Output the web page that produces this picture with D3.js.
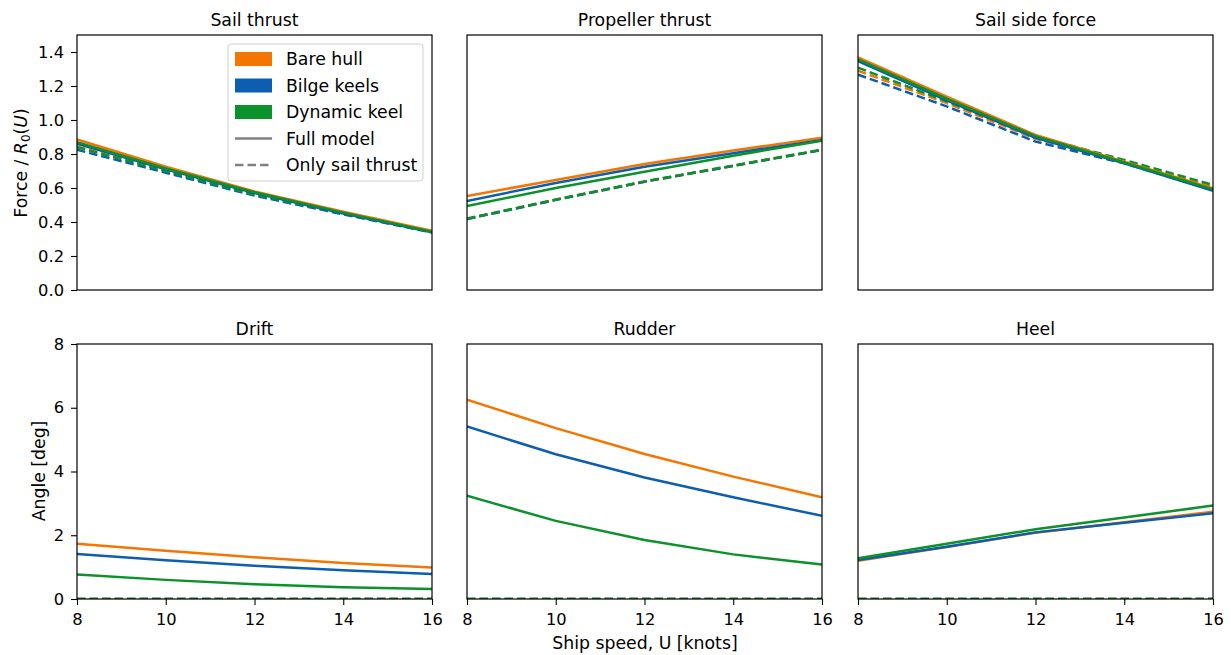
<!DOCTYPE html>
<meta charset="utf-8">
<script src="https://d3js.org/d3.v7.min.js"></script>
<style>
  body { margin: 0; background: #fff; }
  text { font-family: "DejaVu Sans", sans-serif; }
</style>
<div id="chart"></div>
<script>

// ship speeds (knots)
var speeds = [8, 10, 12, 14, 16];
var configs = ["Bare hull", "Bilge keels", "Dynamic keel"];
var configColors = ["#f47600", "#0b5eb0", "#0c912b"];
var xTicks = [8, 10, 12, 14, 16];
var forceTicks = [0, 0.2, 0.4, 0.6, 0.8, 1.0, 1.2, 1.4];
var angleTicks = [0, 2, 4, 6, 8];

// each array: [bare hull, bilge keels, dynamic keel]
var sailThrustFull = [
  [0.885, 0.725, 0.58, 0.46, 0.348],
  [0.86, 0.71, 0.57, 0.45, 0.34],
  [0.87, 0.715, 0.575, 0.455, 0.343]
];
var sailThrustOnly = [
  [0.845, 0.70, 0.565, 0.45, 0.343],
  [0.825, 0.69, 0.555, 0.445, 0.338],
  [0.84, 0.70, 0.56, 0.45, 0.342]
];
var propThrustFull = [
  [0.553, 0.647, 0.741, 0.82, 0.896],
  [0.524, 0.63, 0.725, 0.805, 0.882],
  [0.494, 0.60, 0.696, 0.79, 0.878]
];
var propThrustOnly = [
  [0.418, 0.53, 0.637, 0.73, 0.824],
  [0.418, 0.53, 0.637, 0.73, 0.824],
  [0.42, 0.532, 0.639, 0.732, 0.826]
];
var sideForceFull = [
  [1.369, 1.137, 0.912, 0.755, 0.598],
  [1.347, 1.115, 0.895, 0.745, 0.584],
  [1.357, 1.125, 0.905, 0.75, 0.592]
];
var sideForceOnly = [
  [1.29, 1.10, 0.89, 0.755, 0.608],
  [1.267, 1.08, 0.873, 0.745, 0.588],
  [1.308, 1.11, 0.905, 0.765, 0.618]
];
var driftFull = [
  [1.73, 1.51, 1.31, 1.13, 0.985],
  [1.415, 1.216, 1.04, 0.90, 0.786],
  [0.765, 0.60, 0.46, 0.367, 0.314]
];
var rudderFull = [
  [6.25, 5.36, 4.55, 3.84, 3.19],
  [5.41, 4.54, 3.81, 3.19, 2.61],
  [3.24, 2.45, 1.85, 1.40, 1.08]
];
var heelFull = [
  [1.2, 1.63, 2.08, 2.41, 2.74],
  [1.22, 1.64, 2.09, 2.39, 2.69],
  [1.28, 1.73, 2.19, 2.56, 2.93]
];
// with only sail thrust there is no drift, rudder or heel
var angleOnly = [
  [0, 0, 0, 0, 0],
  [0, 0, 0, 0, 0],
  [0, 0, 0, 0, 0]
];

var W = 1231, H = 655;
var colX = [77, 467, 858], panelW = 355;
var rowY = [35, 344], panelH = 255;
var dash = "8.5,4";

var svg = d3.select("#chart").append("svg")
  .attr("width", W).attr("height", H);

var panels = [
  {title: "Sail thrust", full: sailThrustFull, only: sailThrustOnly, row: 0, col: 0},
  {title: "Propeller thrust", full: propThrustFull, only: propThrustOnly, row: 0, col: 1},
  {title: "Sail side force", full: sideForceFull, only: sideForceOnly, row: 0, col: 2},
  {title: "Drift", full: driftFull, only: angleOnly, row: 1, col: 0},
  {title: "Rudder", full: rudderFull, only: angleOnly, row: 1, col: 1},
  {title: "Heel", full: heelFull, only: angleOnly, row: 1, col: 2}
];

var x = d3.scaleLinear().domain([8, 16]).range([0, panelW]);
var yForce = d3.scaleLinear().domain([0, 1.5]).range([panelH, 0]);
var yAngle = d3.scaleLinear().domain([0, 8]).range([panelH, 0]);

panels.forEach(function(p, i) {
  var y = p.row == 0 ? yForce : yAngle;
  var g = svg.append("g")
    .attr("transform", "translate(" + colX[p.col] + "," + rowY[p.row] + ")");

  g.append("clipPath").attr("id", "clip" + i)
    .append("rect").attr("width", panelW).attr("height", panelH);

  var line = d3.line()
    .x(function(d, j) { return x(speeds[j]); })
    .y(function(d) { return y(d); });

  var lines = g.append("g").attr("clip-path", "url(#clip" + i + ")");
  // dashed first, then full model, each in config order
  p.only.forEach(function(vals, k) {
    lines.append("path").attr("d", line(vals))
      .attr("fill", "none").attr("stroke", configColors[k])
      .attr("stroke-width", 2.5).attr("stroke-dasharray", dash);
  });
  p.full.forEach(function(vals, k) {
    lines.append("path").attr("d", line(vals))
      .attr("fill", "none").attr("stroke", configColors[k])
      .attr("stroke-width", 2.5);
  });

  g.append("rect").attr("width", panelW).attr("height", panelH)
    .attr("fill", "none").attr("stroke", "#000").attr("stroke-width", 1.2);

  g.append("text")
    .attr("x", panelW / 2).attr("y", -9)
    .attr("text-anchor", "middle")
    .attr("font-size", "17.3px")
    .text(p.title);

  if (p.col == 0) {
    var ya = g.append("g")
      .call(d3.axisLeft(y)
        .tickValues(p.row == 0 ? forceTicks : angleTicks)
        .tickFormat(p.row == 0 ? d3.format(".1f") : d3.format("d"))
        .tickSize(6).tickSizeOuter(0).tickPadding(7));
    ya.select(".domain").remove();
    ya.selectAll("text").attr("font-size", "16.3px").attr("font-family", "DejaVu Sans").attr("fill", "#000");
    ya.selectAll("line").attr("stroke", "#000").attr("stroke-width", 1.1);
  }
  if (p.row == 1) {
    var xa = g.append("g").attr("transform", "translate(0," + panelH + ")")
      .call(d3.axisBottom(x).tickValues(xTicks)
        .tickSize(6).tickSizeOuter(0).tickPadding(8));
    xa.select(".domain").remove();
    xa.selectAll("text").attr("font-size", "16.3px").attr("font-family", "DejaVu Sans").attr("fill", "#000");
    xa.selectAll("line").attr("stroke", "#000").attr("stroke-width", 1.1);
  }
});

// y axis labels
var fl = svg.append("text")
  .attr("transform", "translate(27,163) rotate(-90)")
  .attr("text-anchor", "middle")
  .attr("font-size", "17.3px");
fl.append("tspan").text("Force / ");
fl.append("tspan").attr("font-style", "italic").text("R");
fl.append("tspan").attr("font-size", "12px").attr("dy", 3).text("0");
fl.append("tspan").attr("dy", -3).text("(");
fl.append("tspan").attr("font-style", "italic").text("U");
fl.append("tspan").text(")");

svg.append("text")
  .attr("transform", "translate(45,471) rotate(-90)")
  .attr("text-anchor", "middle")
  .attr("font-size", "17.3px")
  .text("Angle [deg]");

svg.append("text")
  .attr("x", 645).attr("y", 649)
  .attr("text-anchor", "middle")
  .attr("font-size", "17.3px")
  .text("Ship speed, U [knots]");

// legend
var lg = svg.append("g").attr("transform", "translate(228,44)");
lg.append("rect").attr("width", 195).attr("height", 137)
  .attr("rx", 3).attr("fill", "#fff").attr("fill-opacity", 0.8)
  .attr("stroke", "#d0d0d0").attr("stroke-width", 1);

var legendItems = configs.map(function(c, k) { return {label: c, color: configColors[k], kind: "patch"}; })
  .concat([{label: "Full model", kind: "solid"}, {label: "Only sail thrust", kind: "dash"}]);

legendItems.forEach(function(it, k) {
  var cy = 15 + k * 26.5;
  if (it.kind == "patch") {
    lg.append("rect").attr("x", 7).attr("y", cy - 7).attr("width", 37).attr("height", 14)
      .attr("fill", it.color);
  } else {
    lg.append("line").attr("x1", 7).attr("x2", 44).attr("y1", cy).attr("y2", cy)
      .attr("stroke", "#808080").attr("stroke-width", 2.5)
      .attr("stroke-dasharray", it.kind == "dash" ? dash : null);
  }
  lg.append("text").attr("x", 58).attr("y", cy + 6)
    .attr("font-size", "17.3px").text(it.label);
});

</script>
